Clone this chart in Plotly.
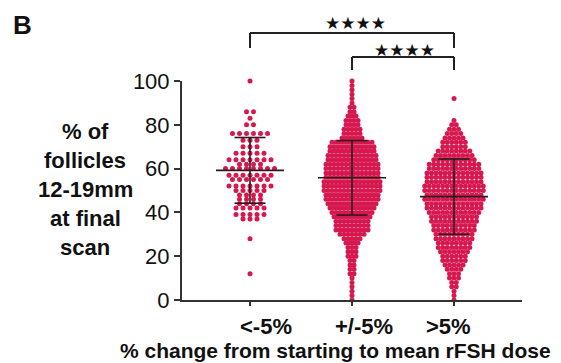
import plotly.graph_objects as go

# ---------------- data ----------------
categories = ["<-5%", "+/-5%", ">5%"]

# binned values (% of follicles) and number of points at each level
g1_values = [100, 86, 83, 80, 76, 73, 70, 67, 64, 62, 60, 57, 55, 52, 50, 48, 46, 44, 42, 39, 37, 28, 12]
g1_counts = [1, 2, 1, 2, 6, 3, 3, 5, 7, 4, 8, 7, 6, 7, 5, 4, 4, 4, 5, 5, 3, 1, 1]

g2_values = [100, 98, 96, 94, 92, 90, 88, 86, 84, 82, 80, 78, 76, 74, 72, 70, 68, 66, 64, 62, 60, 58, 56, 54,
             52, 50, 48, 46, 44, 42, 40, 38, 36, 34, 32, 30, 28, 26, 24, 22, 20, 18, 16, 14, 12, 10, 8, 6, 4, 2, 0]
g2_counts = [1, 1, 1, 1, 1, 1, 2, 2, 3, 4, 4, 5, 5, 6, 11, 12, 12, 13, 13, 14, 14, 14, 14, 15,
             15, 15, 14, 14, 13, 12, 11, 10, 9, 9, 9, 7, 5, 4, 3, 3, 3, 2, 2, 2, 2, 1, 1, 1, 1, 1, 1]

g3_values = [92, 82, 80, 78, 76, 74, 72, 70, 68, 66, 64, 62, 60, 58, 56, 54, 52, 50, 48, 46, 44, 42, 40, 38,
             36, 34, 32, 30, 28, 26, 24, 22, 20, 18, 16, 14, 12, 10, 8, 6, 4, 2, 0]
g3_counts = [1, 1, 2, 3, 4, 5, 6, 6, 8, 9, 10, 12, 12, 13, 13, 13, 14, 14, 13, 14, 13, 13, 12, 11,
             11, 10, 10, 9, 9, 8, 8, 7, 6, 6, 5, 4, 3, 3, 2, 2, 1, 1, 1]

means = [59.2, 55.8, 47.2]
sds = [15.0, 17.0, 17.2]

significance = ["★★★★", "★★★★"]
y_title_lines = ["% of", "follicles", "12-19mm", "at final", "scan"]
x_title = "% change from starting to mean rFSH dose"
panel_label = "B"

# ---------------- style / layout ----------------
W, H = 561, 363
ML, MR, MT, MB = 182, 39, 81, 63
PW, PH = W - ML - MR, H - MT - MB
PX_PER_X = 102.0
XR = [-(250 - ML) / PX_PER_X, 2 + (W - MR - 454) / PX_PER_X]
DOT = "#d6184f"
FONT = "Liberation Sans, Arial, sans-serif"
spacing_px = [7.0, 4.0, 4.5]
mean_half = 34 / PX_PER_X
cap_half = 15.5 / PX_PER_X

groups = [(g1_values, g1_counts), (g2_values, g2_counts), (g3_values, g3_counts)]


def px_x(p):
    return (p - ML) / PW


def px_y(p):
    return (H - MB - p) / PH


fig = go.Figure()

for gi, (vals, cnts) in enumerate(groups):
    xs, ys = [], []
    s = spacing_px[gi] / PX_PER_X
    for v, n in zip(vals, cnts):
        for k in range(n):
            xs.append(gi + (k - (n - 1) / 2) * s)
            ys.append(v)
    fig.add_trace(go.Scatter(x=xs, y=ys, mode="markers",
                             marker=dict(color=DOT, size=5, line=dict(width=0)),
                             hoverinfo="skip", showlegend=False, cliponaxis=False))

# mean and SD bars
lx, ly = [], []
for gi, (m, sd) in enumerate(zip(means, sds)):
    lx += [gi - mean_half, gi + mean_half, None]
    ly += [m, m, None]
    lx += [gi, gi, None]
    ly += [m - sd, m + sd, None]
    lx += [gi - cap_half, gi + cap_half, None, gi - cap_half, gi + cap_half, None]
    ly += [m + sd, m + sd, None, m - sd, m - sd, None]
fig.add_trace(go.Scatter(x=lx, y=ly, mode="lines", line=dict(color="#2a1a1a", width=1.6),
                         hoverinfo="skip", showlegend=False, cliponaxis=False))

annotations = []

# significance brackets: (group a, group b, top px, left end px, right end px, star x px, star y px)
brackets = [(0, 2, 33, 48, 48, 355, 23), (1, 2, 57, 70, 70, 404, 50)]
for (a, b, top, la, lb, sx, sy), txt in zip(brackets, significance):
    for x0, x1, y0, y1 in [(a, a, la, top), (a, b, top, top), (b, b, top, lb)]:
        fig.add_shape(type="line", xref="x", yref="paper", x0=x0, x1=x1, y0=px_y(y0), y1=px_y(y1),
                      line=dict(color="#222", width=2))
    annotations.append(dict(x=px_x(sx), xref="paper", y=px_y(sy), yref="paper", text=txt, showarrow=False,
                            font=dict(family="DejaVu Sans", size=17, color="#111"),
                            xanchor="center", yanchor="middle"))

# category labels (placed like in the reference)
label_px = [266, 364, 448]
for cat, lpx in zip(categories, label_px):
    annotations.append(dict(x=px_x(lpx), xref="paper", y=px_y(326), yref="paper", text="<b>%s</b>" % cat,
                            showarrow=False, font=dict(family=FONT, size=22, color="#111"),
                            xanchor="center", yanchor="middle"))

annotations.append(dict(x=px_x(335), xref="paper", y=px_y(350), yref="paper", text="<b>%s</b>" % x_title,
                        showarrow=False, font=dict(family=FONT, size=21, color="#111"),
                        xanchor="center", yanchor="middle"))

# y title lines
y_line_px = [131, 160, 189, 218, 247]
for t, ypx in zip(y_title_lines, y_line_px):
    annotations.append(dict(x=px_x(85), xref="paper", y=px_y(ypx), yref="paper",
                            text="<b>%s</b>" % t, showarrow=False,
                            font=dict(family=FONT, size=22, color="#111"), xanchor="center", yanchor="middle"))

annotations.append(dict(x=px_x(22), xref="paper", y=px_y(25), yref="paper",
                        text="<b>%s</b>" % panel_label, showarrow=False,
                        font=dict(family=FONT, size=26, color="#111"), xanchor="center", yanchor="middle"))

fig.update_layout(
    width=W, height=H, margin=dict(l=ML, r=MR, t=MT, b=MB),
    paper_bgcolor="white", plot_bgcolor="white", showlegend=False,
    annotations=annotations,
    xaxis=dict(range=XR, tickvals=[0, 1, 2], ticktext=["", "", ""], ticks="outside", ticklen=4,
               tickwidth=2, tickcolor="#333", showline=True, linecolor="#333", linewidth=2,
               showgrid=False, zeroline=False, fixedrange=True),
    yaxis=dict(range=[0, 100], tickvals=[0, 20, 40, 60, 80, 100], ticks="outside", ticklen=6,
               tickwidth=2, tickcolor="#333", showline=True, linecolor="#333", linewidth=2,
               showgrid=False, zeroline=False, tickfont=dict(family=FONT, size=22, color="#111"),
               tickprefix="<b>", ticksuffix="</b>", fixedrange=True),
)

fig.write_html("out.html", config={"displayModeBar": False},
               post_script="document.body.style.margin='0';document.body.style.padding='0';")
